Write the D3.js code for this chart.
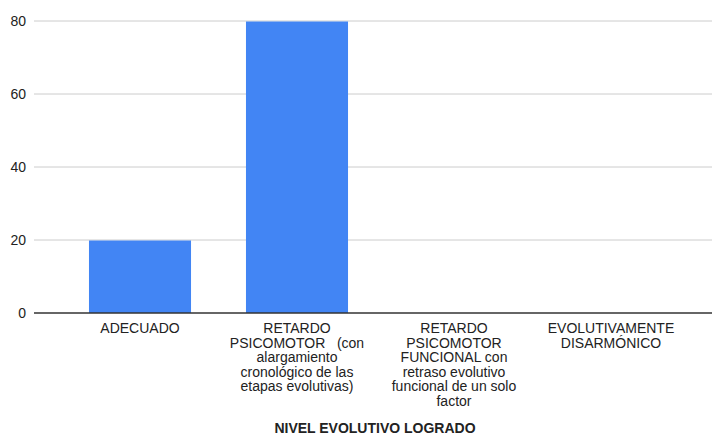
<!DOCTYPE html>
<html>
<head>
<meta charset="utf-8">
<script src="https://cdn.jsdelivr.net/npm/d3@7/dist/d3.min.js"></script>
<style>
  html, body { margin: 0; padding: 0; background: #fff; }
  svg { display: block; font-family: "Liberation Sans", Arial, sans-serif; }
</style>
</head>
<body>
<svg id="chart" width="713" height="437"></svg>
<script>
// Nivel evolutivo logrado (%)
const categories = [
  "ADECUADO",
  "RETARDO PSICOMOTOR   (con alargamiento cronológico de las etapas evolutivas)",
  "RETARDO PSICOMOTOR FUNCIONAL con retraso evolutivo funcional de un solo factor",
  "EVOLUTIVAMENTE DISARMÓNICO"
];
const values = [20, 80, 0, 0];
const yTicks = [0, 20, 40, 60, 80];
const axisTitle = "NIVEL EVOLUTIVO LOGRADO";

const svg = d3.select("#chart");
const plot = { left: 34, right: 712, top: 21, bottom: 313 };

const y = d3.scaleLinear().domain([0, 80]).range([plot.bottom, plot.top]);
const x = d3.scaleBand()
  .domain(categories)
  .range([61.5, 689.5])
  .paddingInner(0.35)
  .paddingOuter(0.175);

// gridlines
svg.append("g").selectAll("line")
  .data(yTicks.filter(d => d !== 0))
  .join("line")
  .attr("x1", plot.left).attr("x2", plot.right)
  .attr("y1", d => y(d)).attr("y2", d => y(d))
  .attr("stroke", "#cccccc").attr("stroke-width", 1);

// y tick labels
svg.append("g").selectAll("text")
  .data(yTicks)
  .join("text")
  .attr("x", 26).attr("y", d => y(d)).attr("dy", "0.36em")
  .attr("text-anchor", "end")
  .attr("font-size", 14).attr("fill", "#222")
  .text(d => d);

// bars
svg.append("g").selectAll("rect")
  .data(categories.map((c, i) => ({ c, v: values[i] })).filter(d => d.v > 0))
  .join("rect")
  .attr("x", d => x(d.c))
  .attr("width", x.bandwidth())
  .attr("y", d => y(d.v) + 0.5)
  .attr("height", d => y(0) - y(d.v) - 0.5)
  .attr("fill", "#4285f4");

// baseline
svg.append("line")
  .attr("x1", plot.left).attr("x2", plot.right)
  .attr("y1", y(0)).attr("y2", y(0))
  .attr("stroke", "#333").attr("stroke-width", 1.5);

// wrapped category labels
const maxW = 140, lineH = 14.5;
const labels = svg.append("g");
categories.forEach(c => {
  const cx = x(c) + x.bandwidth() / 2;
  const t = labels.append("text")
    .attr("text-anchor", "middle")
    .attr("font-size", 14).attr("fill", "#222")
    .style("white-space", "pre");
  const words = c.split(/ (?! )/);
  let lines = [], cur = "";
  const probe = t.append("tspan");
  words.forEach(w => {
    const trial = cur ? cur + " " + w : w;
    probe.text(trial);
    if (cur && probe.node().getComputedTextLength() > maxW) {
      lines.push(cur); cur = w;
    } else cur = trial;
  });
  if (cur) lines.push(cur);
  probe.remove();
  lines.forEach((ln, i) => {
    t.append("tspan").attr("x", cx).attr("y", 333 + i * lineH).text(ln);
  });
});

// axis title
svg.append("text")
  .attr("x", (plot.left + plot.right) / 2 + 2).attr("y", 433)
  .attr("text-anchor", "middle")
  .attr("font-size", 14).attr("font-weight", "bold").attr("fill", "#222")
  .text(axisTitle);
</script>
</body>
</html>
